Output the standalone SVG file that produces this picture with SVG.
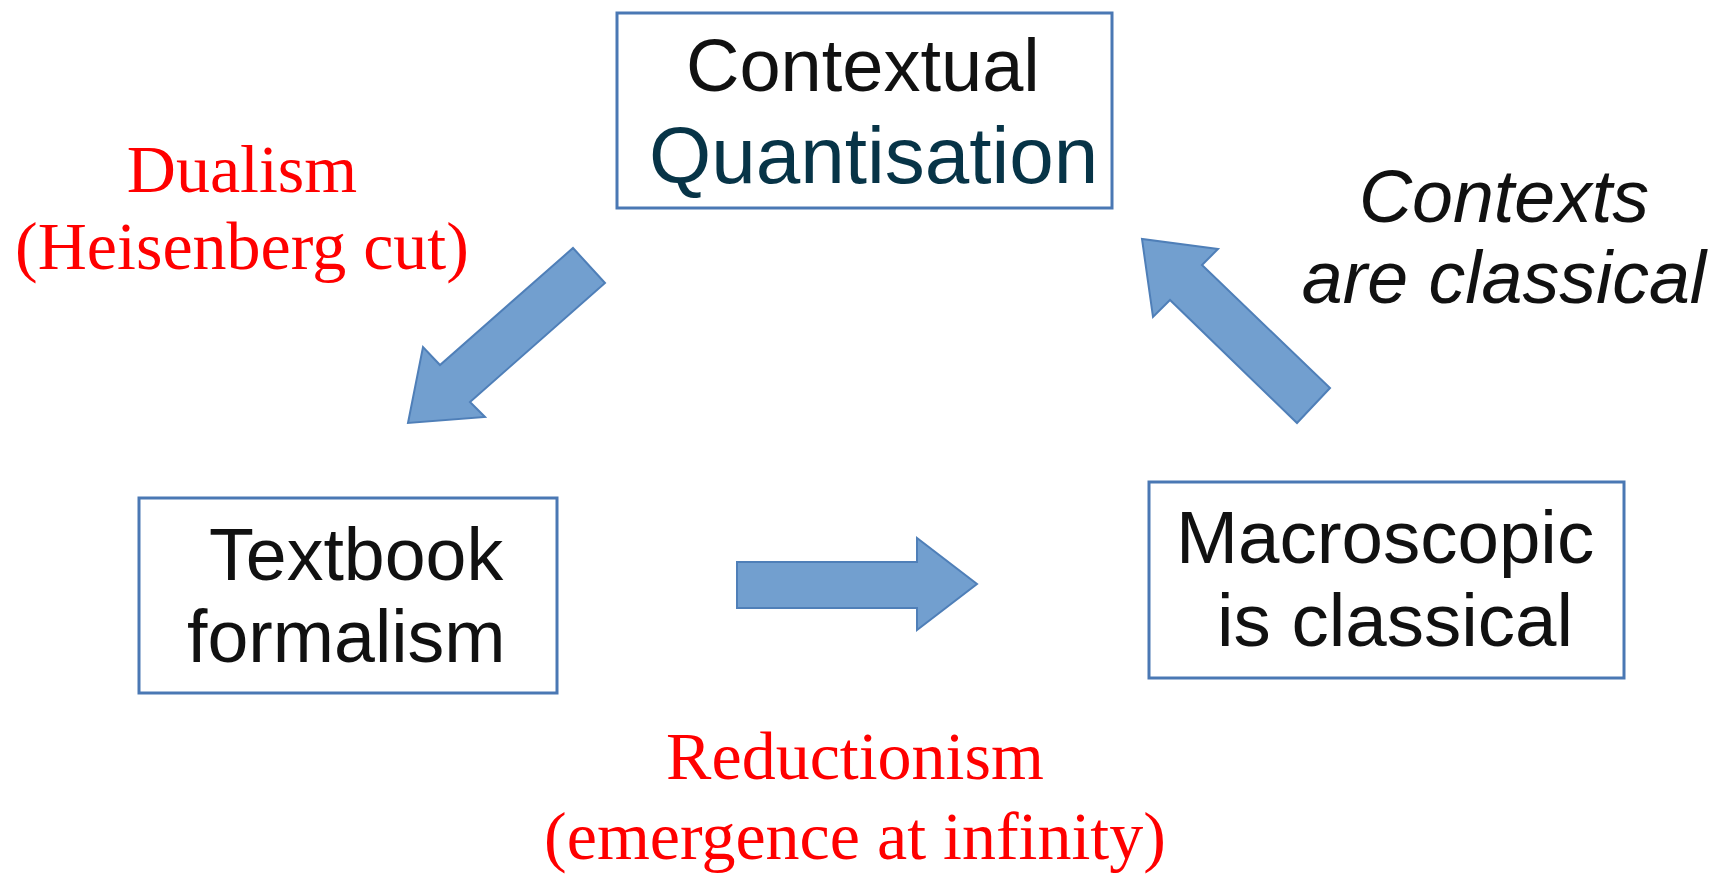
<svg xmlns="http://www.w3.org/2000/svg" width="1716" height="874" viewBox="0 0 1716 874">
<style>
.box{fill:#ffffff;stroke:#4a78b4;stroke-width:3}
.lbl{font-family:"Liberation Sans",Arial,sans-serif;fill:#111111}
.red{font-family:"Liberation Serif","Times New Roman",serif;fill:#ff0000;font-size:68px;text-anchor:middle}
.arr{fill:#729fcf;stroke:#4f7fb8;stroke-width:2;stroke-linejoin:miter}
</style>
<rect width="1716" height="874" fill="#ffffff"/>
<g id="connectors">
<polygon class="arr" points="573,248 605,283 470,402 485,417 408,423 423,347 440,365"/>
<polygon class="arr" points="1330,388 1297,423 1170,300 1153,317 1142,239 1218,249 1202,265"/>
<polygon class="arr" points="737,562 917,562 917,538 977,584 917,630 917,608 737,608"/>
</g>
<g id="node-contextual">
<rect class="box" x="617" y="13" width="495" height="195"/>
<text class="lbl" x="686" y="91" font-size="74">Contextual</text>
<text class="lbl" x="649" y="183" font-size="80" style="fill:#073447">Quantisation</text>
</g>
<g id="node-textbook">
<rect class="box" x="139" y="498" width="418" height="195"/>
<text class="lbl" x="209" y="580" font-size="73.5">Textbook</text>
<text class="lbl" x="187" y="662" font-size="73.5">formalism</text>
</g>
<g id="node-macroscopic">
<rect class="box" x="1149" y="482" width="475" height="196"/>
<text class="lbl" x="1176" y="563" font-size="74.5">Macroscopic</text>
<text class="lbl" x="1217" y="646" font-size="74.5">is classical</text>
</g>
<g id="label-contexts">
<text class="lbl" x="1504" y="222" font-size="73.5" font-style="italic" text-anchor="middle">Contexts</text>
<text class="lbl" x="1504" y="303" font-size="73.5" font-style="italic" text-anchor="middle">are classical</text>
</g>
<g id="label-dualism">
<text class="red" x="242" y="192">Dualism</text>
<text class="red" x="242" y="269">(Heisenberg cut)</text>
</g>
<g id="label-reductionism">
<text class="red" x="855" y="779">Reductionism</text>
<text class="red" x="855" y="859">(emergence at infinity)</text>
</g>
</svg>
